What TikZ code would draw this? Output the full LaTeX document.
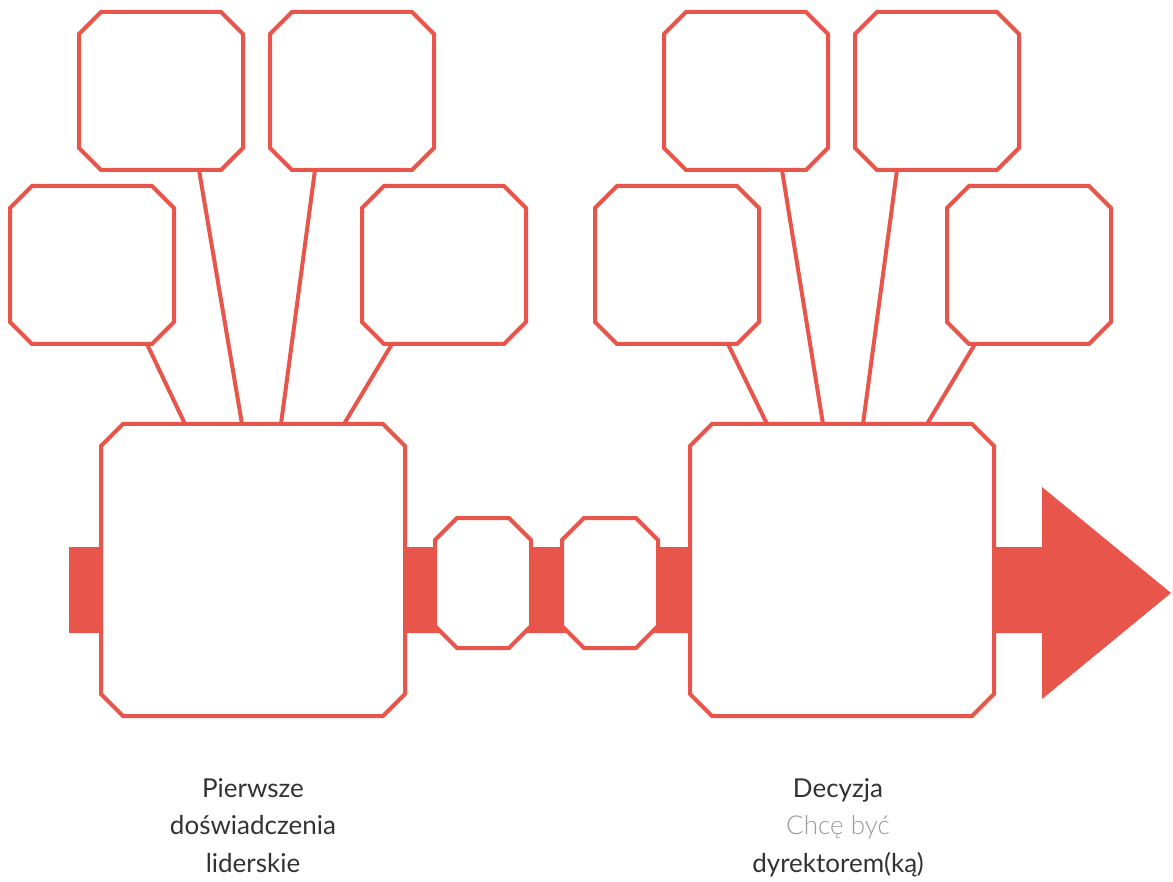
\documentclass[tikz,border=0pt]{standalone}
\usepackage{fontspec}
\setmainfont{Lato}
\newfontfamily\latolight{Lato Light}
\usetikzlibrary{calc}
\definecolor{accent}{HTML}{E8554B}
\definecolor{dark}{HTML}{333333}
\definecolor{light}{HTML}{9A9A9A}
\tikzset{
  frame/.style={rectangle, draw=none, inner sep=0pt, outer sep=0pt},
  smallbox/.style={frame, minimum width=164pt, minimum height=158pt},
  bigbox/.style={frame, minimum width=304pt, minimum height=292pt},
  midbox/.style={frame, minimum width=96pt, minimum height=130pt},
  octline/.style={draw=accent, line width=4pt, fill=white, line join=miter},
  conn/.style={draw=accent, line width=4pt},
  lbl/.style={anchor=base, inner sep=0pt, font=\fontsize{26pt}{30pt}\selectfont, text=dark},
}
% octagon outline along a named node's border, chamfer 22pt
\newcommand{\drawoct}[1]{%
  \path[octline] ($(#1.north west)+(22,0)$) -- ($(#1.north east)+(-22,0)$)
    -- ($(#1.north east)+(0,22)$) -- ($(#1.south east)+(0,-22)$)
    -- ($(#1.south east)+(-22,0)$) -- ($(#1.south west)+(22,0)$)
    -- ($(#1.south west)+(0,-22)$) -- ($(#1.north west)+(0,22)$) -- cycle;}
\begin{document}
\begin{tikzpicture}[x=1pt,y=-1pt]
\useasboundingbox (0,0) rectangle (1173,882);
% bar with arrow
\fill[accent] (69,547) -- (1042,547) -- (1042,487) -- (1171,593) -- (1042,699) -- (1042,633) -- (69,633) -- cycle;
% big boxes
\node[bigbox] (bigL) at (253,570) {};
\node[bigbox] (bigR) at (842,570) {};
% middle boxes
\node[midbox] (m1) at (483,583) {};
\node[midbox] (m2) at (610,583) {};
% small boxes left
\node[smallbox] (l1) at (92,265) {};
\node[smallbox] (l2) at (161,91) {};
\node[smallbox] (l3) at (352,91) {};
\node[smallbox] (l4) at (444,265) {};
% small boxes right
\node[smallbox] (r1) at (677,265) {};
\node[smallbox] (r2) at (746,91) {};
\node[smallbox] (r3) at (937,91) {};
\node[smallbox] (r4) at (1029,265) {};
\foreach \n in {bigL,bigR,m1,m2,l1,l2,l3,l4,r1,r2,r3,r4} {\drawoct{\n}}
% connectors
\draw[conn] ($(l1.south)+(55,0)$) -- ($(bigL.north)+(-68,0)$);
\draw[conn] ($(l2.south)+(38,0)$) -- ($(bigL.north)+(-11,0)$);
\draw[conn] ($(l3.south)+(-37,0)$) -- ($(bigL.north)+(28,0)$);
\draw[conn] ($(l4.south)+(-52,0)$) -- ($(bigL.north)+(91,0)$);
\draw[conn] ($(r1.south)+(51,0)$) -- ($(bigR.north)+(-75,0)$);
\draw[conn] ($(r2.south)+(36,0)$) -- ($(bigR.north)+(-19,0)$);
\draw[conn] ($(r3.south)+(-40,0)$) -- ($(bigR.north)+(21,0)$);
\draw[conn] ($(r4.south)+(-54,0)$) -- ($(bigR.north)+(85,0)$);
% labels
\node[lbl] (tl1) at (253,797) {Pierwsze};
\node[lbl] (tl2) at (253,834.5) {doświadczenia};
\node[lbl] (tl3) at (253,872) {liderskie};
\node[lbl] (tr1) at (838,797) {Decyzja};
\node[lbl, text=light, font=\latolight\fontsize{26pt}{30pt}\selectfont] (tr2) at (838,834.5) {Chcę być};
\node[lbl] (tr3) at (838,872) {dyrektorem(ką)};
\end{tikzpicture}
\end{document}
